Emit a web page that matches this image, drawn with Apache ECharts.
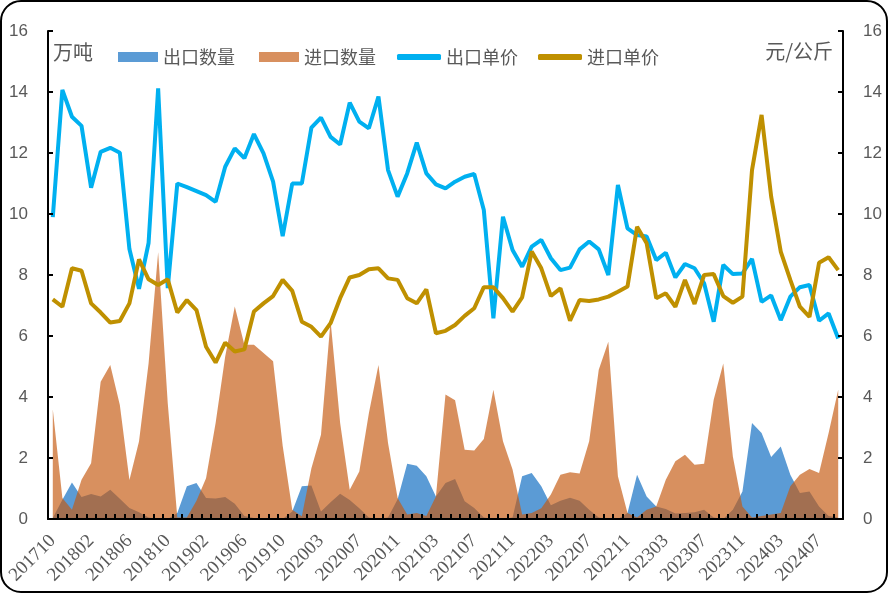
<!DOCTYPE html>
<html>
<head>
<meta charset="utf-8">
<script src="https://cdn.jsdelivr.net/npm/echarts@6/dist/echarts.min.js"></script>
<style>
html,body{margin:0;padding:0;background:#fff;}
#chart{width:888px;height:593px;}
</style>
</head>
<body>
<div id="chart"></div>
<script>
const categories = [
'201710','201711','201712',
'201801','201802','201803','201804','201805','201806','201807','201808','201809','201810','201811','201812',
'201901','201902','201903','201904','201905','201906','201907','201908','201909','201910','201911','201912',
'202002','202003','202004','202005','202006','202007','202008','202009','202010','202011','202012',
'202101','202102','202103','202104','202105','202106','202107','202108','202109','202110','202111','202112',
'202201','202202','202203','202204','202205','202206','202207','202208','202209','202210','202211','202212',
'202301','202302','202303','202304','202305','202306','202307','202308','202309','202310','202311','202312',
'202401','202402','202403','202404','202405','202406','202407','202408','202409'
];

// 出口数量 (万吨)
const exportQty = [
0.03,0.63,1.2,0.72,0.82,0.74,0.96,0.66,0.36,0.22,0.05,0.0,0.0,0.2,1.07,1.18,0.69,0.67,0.72,0.5,
0.1,0.03,0.0,0.0,0.0,0.25,1.07,1.1,0.25,0.55,0.83,0.62,0.35,0.05,0.0,0.05,0.65,1.81,1.75,1.4,
0.74,1.18,1.31,0.58,0.36,0.05,0.0,0.0,0.05,1.4,1.51,1.07,0.45,0.6,0.7,0.6,0.3,0.05,0.0,0.0,
0.2,1.45,0.74,0.41,0.33,0.18,0.2,0.22,0.3,0.05,0.0,0.3,0.9,3.15,2.82,2.03,2.38,1.45,0.85,0.9,
0.41,0.1,0.05
];

// 进口数量 (万吨)
const importQty = [
3.6,0.69,0.3,1.29,1.83,4.5,5.05,3.74,1.28,2.54,5.1,8.75,3.8,0.05,0.05,0.6,1.34,3.15,5.33,6.97,
5.71,5.71,5.44,5.17,2.4,0.3,0.09,1.66,2.76,6.5,3.15,0.96,1.56,3.47,5.05,2.49,0.69,0.15,0.2,0.1,
0.74,4.08,3.89,2.27,2.25,2.62,4.24,2.55,1.62,0.15,0.2,0.35,0.8,1.45,1.53,1.49,2.55,4.89,5.81,1.4,
0.2,0.05,0.3,0.41,1.29,1.89,2.11,1.78,1.81,3.91,5.1,2.05,0.41,0.05,0.1,0.15,0.2,1.07,1.45,1.64,
1.51,2.82,4.24
];

// 出口单价 (元/公斤)
const exportPrice = [
9.9,14.07,13.19,12.89,10.86,12.04,12.17,12.01,8.85,7.55,9.05,14.12,7.57,11.0,10.88,10.75,10.62,10.4,11.55,12.15,
11.83,12.62,11.99,11.06,9.27,11.0,11.0,12.83,13.16,12.53,12.28,13.65,13.03,12.81,13.85,11.44,10.57,11.33,12.34,11.33,
10.97,10.84,11.06,11.22,11.31,10.13,6.58,9.91,8.82,8.27,8.93,9.15,8.55,8.16,8.24,8.84,9.1,8.84,8.0,10.95,
9.53,9.31,9.26,8.49,8.73,7.92,8.36,8.22,7.73,6.47,8.33,8.03,8.05,8.53,7.12,7.33,6.52,7.29,7.6,7.67,
6.5,6.74,5.92
];

// 进口单价 (元/公斤)
const importPrice = [
7.2,6.96,8.22,8.14,7.07,6.77,6.44,6.49,7.07,8.51,7.86,7.67,7.86,6.77,7.18,6.85,5.65,5.13,5.78,5.49,
5.56,6.8,7.07,7.31,7.84,7.48,6.47,6.3,5.98,6.42,7.24,7.92,8.0,8.19,8.22,7.89,7.84,7.24,7.07,7.53,
6.09,6.17,6.36,6.66,6.91,7.6,7.6,7.24,6.8,7.27,8.77,8.22,7.31,7.56,6.5,7.18,7.15,7.2,7.29,7.45,
7.62,9.58,9.04,7.24,7.4,6.96,7.84,7.05,8.0,8.03,7.31,7.09,7.29,11.44,13.25,10.57,8.77,7.84,6.96,6.63,
8.4,8.58,8.16
];

const names = ['出口数量','进口数量','出口单价','进口单价'];
const colors = ['#5B9BD5','rgba(197,90,17,0.67)','#00B0F0','#BF9000'];

const chart = echarts.init(document.getElementById('chart'), null, {renderer:'canvas'});
const gray = '#595959';
const yAxisBase = {
  type:'value', min:0, max:16, interval:2, z:10,
  axisLine:{show:true, lineStyle:{color:'#000', width:2}},
  axisTick:{show:true, inside:true, length:5, lineStyle:{color:'#000', width:2}},
  splitLine:{show:false},
  axisLabel:{color:gray, fontSize:17, fontFamily:'Liberation Sans', margin:20}
};
chart.setOption({
  backgroundColor:'#fff',
  animation:false,
  grid:{left:48, right:45, top:31, bottom:74},
  legend:[
    {data:[names[0],names[1]], left:118, top:48, padding:0, icon:'rect', itemWidth:40, itemHeight:10, itemGap:24,
     textStyle:{color:gray, fontSize:18, fontFamily:'Noto Sans CJK SC'}},
    {data:[names[2],names[3]], left:397, top:48, padding:0, icon:'roundRect', itemWidth:44, itemHeight:6, itemGap:20,
     textStyle:{color:gray, fontSize:18, fontFamily:'Noto Sans CJK SC'}}
  ],
  xAxis:{
    type:'category', data:categories, boundaryGap:true, z:10,
    axisLine:{show:true, lineStyle:{color:'#000', width:2}},
    axisTick:{show:true, inside:true, interval:0, length:5, lineStyle:{color:'#000', width:2}},
    axisLabel:{interval:3, rotate:45, color:gray, fontSize:19, fontFamily:'Liberation Serif', margin:19}
  },
  yAxis:[
    Object.assign({position:'left'}, yAxisBase),
    Object.assign({position:'right'}, yAxisBase)
  ],
  graphic:[
    {type:'rect', shape:{x:1, y:1, width:886, height:591, r:20}, style:{fill:'none', stroke:'#000', lineWidth:2}, z:100},
    {type:'text', left:53, top:42, style:{text:'万吨', fill:gray, font:'20px "Noto Sans CJK SC"'}},
    {type:'text', right:55, top:41, style:{text:'元/公斤', fill:gray, font:'20px "Noto Sans CJK SC"'}}
  ],
  series:[
    {name:names[0], type:'line', yAxisIndex:0, data:exportQty, symbol:'none', color:colors[0],
     lineStyle:{width:0}, areaStyle:{color:colors[0], opacity:1}},
    {name:names[1], type:'line', yAxisIndex:0, data:importQty, symbol:'none', color:colors[1],
     lineStyle:{width:0}, areaStyle:{color:colors[1], opacity:1}},
    {name:names[2], type:'line', yAxisIndex:1, data:exportPrice, symbol:'none', color:colors[2],
     lineStyle:{width:4, color:colors[2]}},
    {name:names[3], type:'line', yAxisIndex:1, data:importPrice, symbol:'none', color:colors[3],
     lineStyle:{width:4, color:colors[3]}}
  ]
});
</script>
</body>
</html>
